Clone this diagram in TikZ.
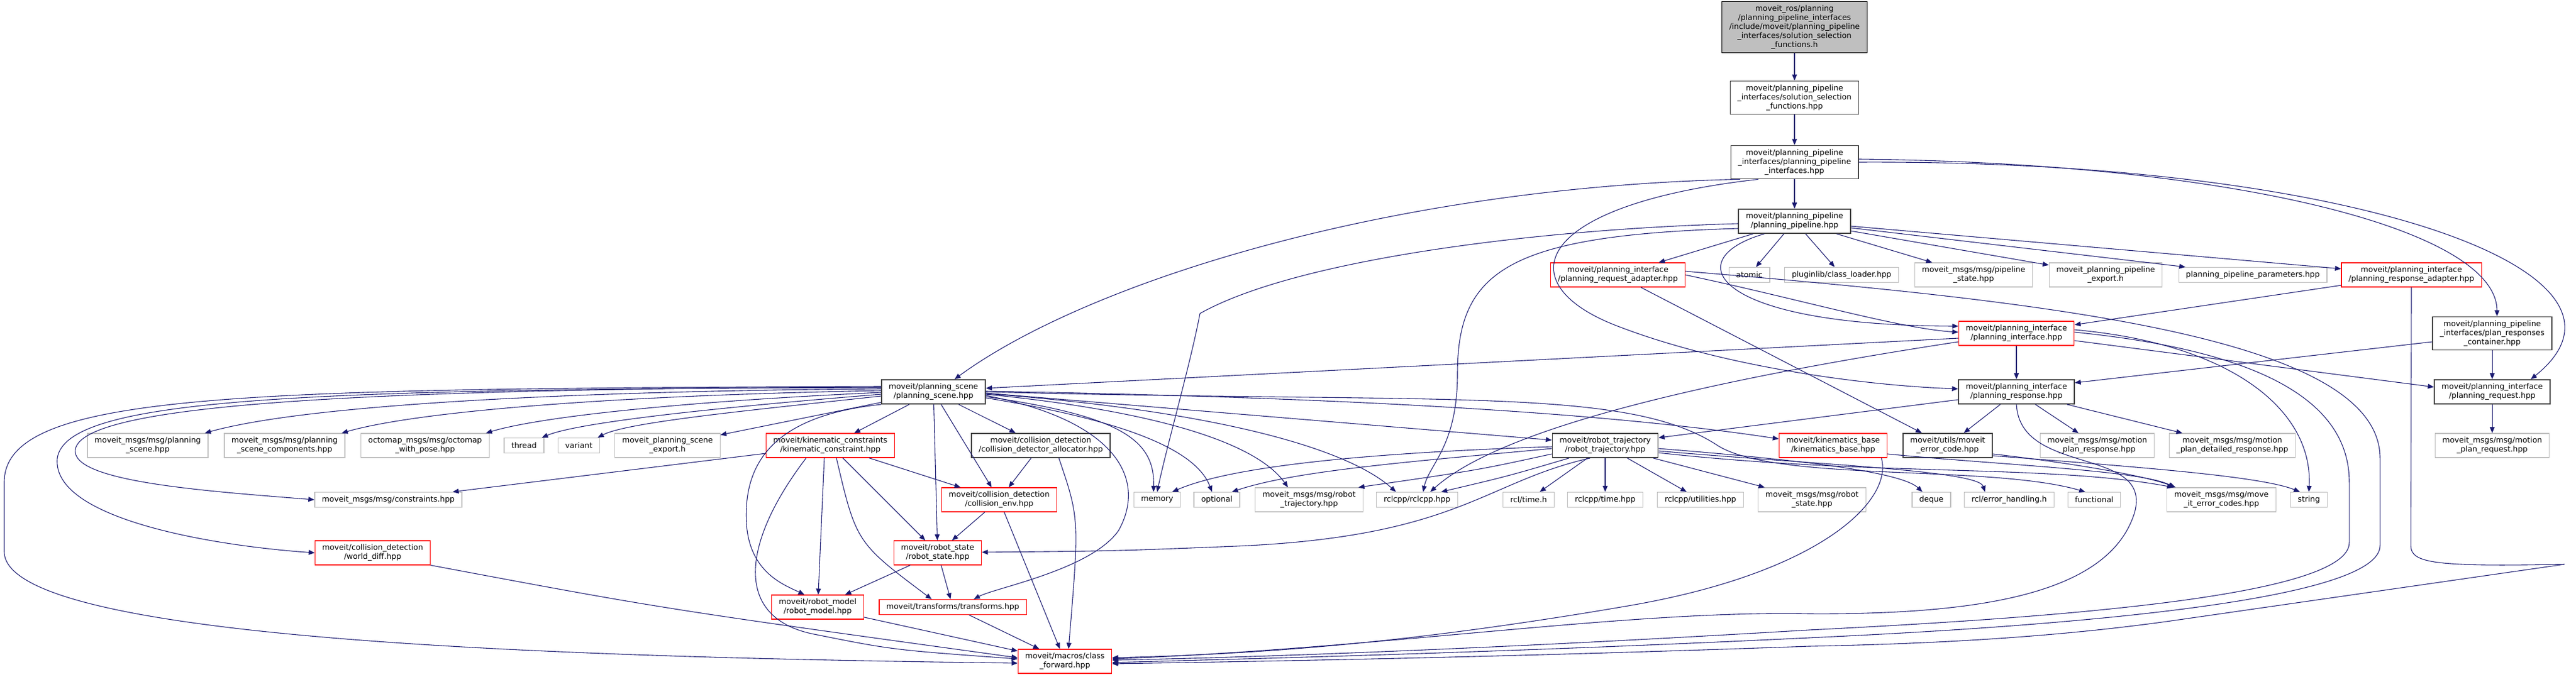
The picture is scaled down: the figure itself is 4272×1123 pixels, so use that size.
\documentclass[tikz,border=0pt]{standalone}
\usepackage{fontspec}
\setmainfont{DejaVu Sans}
\usetikzlibrary{arrows.meta}
\definecolor{doxEdge}{HTML}{191970}
\definecolor{doxGrey}{HTML}{BFBFBF}
\definecolor{doxDark}{HTML}{404040}
\definecolor{doxRed}{HTML}{FF0000}
\tikzset{
    base node/.style={rectangle, align=center, inner xsep=12pt, inner ysep=0pt, minimum height=25pt, line width=1.2pt, font=\fontsize{12.8}{15}\selectfont},
    root node/.style={base node, draw=black, fill=doxGrey},
    doc node/.style={base node, draw=doxDark, line width=1.8pt},
    ext node/.style={base node, draw=doxGrey},
    cut node/.style={base node, draw=doxRed},
    two lines/.style={minimum height=40pt},
    three lines/.style={minimum height=55pt},
    five lines/.style={minimum height=85pt},
    dep/.style={-{Triangle[length=10pt, width=8pt]}, doxEdge, line width=1.1pt},
}
\begin{document}
\begin{tikzpicture}[x=1pt, y=-1pt]
    \useasboundingbox (0,0) rectangle (4272,1123);
    % header chain
    \node[root node, five lines] (top) at (2976,45) {moveit\_ros/planning\\/planning\_pipeline\_interfaces\\/include/moveit/planning\_pipeline\\\_interfaces/solution\_selection\\\_functions.h};
    \node[doc node, three lines] (solsel) at (2976,162) {moveit/planning\_pipeline\\\_interfaces/solution\_selection\\\_functions.hpp};
    \node[doc node, three lines] (ifaces) at (2976,269) {moveit/planning\_pipeline\\\_interfaces/planning\_pipeline\\\_interfaces.hpp};
    \node[doc node, two lines] (pipe) at (2976,367) {moveit/planning\_pipeline\\/planning\_pipeline.hpp};
    % pipeline includes
    \node[cut node, two lines] (reqad) at (2683,456) {moveit/planning\_interface\\/planning\_request\_adapter.hpp};
    \node[ext node] (atomic) at (2901,456) {atomic};
    \node[ext node] (pluginlib) at (3054,456) {pluginlib/class\_loader.hpp};
    \node[ext node, two lines] (pstate) at (3273,456) {moveit\_msgs/msg/pipeline\\\_state.hpp};
    \node[ext node, two lines] (pexport) at (3492,456) {moveit\_planning\_pipeline\\\_export.h};
    \node[ext node] (pparams) at (3736,456) {planning\_pipeline\_parameters.hpp};
    \node[cut node, two lines] (respad) at (3999,456) {moveit/planning\_interface\\/planning\_response\_adapter.hpp};
    \node[cut node, two lines] (pinterface) at (3344,553) {moveit/planning\_interface\\/planning\_interface.hpp};
    \node[doc node, three lines] (container) at (4133,553) {moveit/planning\_pipeline\\\_interfaces/plan\_responses\\\_container.hpp};
    \node[doc node, two lines] (pscene) at (1548,650) {moveit/planning\_scene\\/planning\_scene.hpp};
    \node[doc node, two lines] (presponse) at (3344,650) {moveit/planning\_interface\\/planning\_response.hpp};
    \node[doc node, two lines] (prequest) at (4133,650) {moveit/planning\_interface\\/planning\_request.hpp};
    % row of includes
    \node[ext node, two lines] (msgscene) at (245,739) {moveit\_msgs/msg/planning\\\_scene.hpp};
    \node[ext node, two lines] (msgcomp) at (472,739) {moveit\_msgs/msg/planning\\\_scene\_components.hpp};
    \node[ext node, two lines] (octomap) at (705,739) {octomap\_msgs/msg/octomap\\\_with\_pose.hpp};
    \node[ext node] (thread) at (869,739) {thread};
    \node[ext node] (variant) at (960,739) {variant};
    \node[ext node, two lines] (psexport) at (1107,739) {moveit\_planning\_scene\\\_export.h};
    \node[cut node, two lines] (kconstr) at (1377,739) {moveit/kinematic\_constraints\\/kinematic\_constraint.hpp};
    \node[doc node, two lines] (alloc) at (1726,739) {moveit/collision\_detection\\/collision\_detector\_allocator.hpp};
    \node[doc node, two lines] (rtraj) at (2662,739) {moveit/robot\_trajectory\\/robot\_trajectory.hpp};
    \node[cut node, two lines] (kbase) at (3040,739) {moveit/kinematics\_base\\/kinematics\_base.hpp};
    \node[doc node, two lines] (errcode) at (3230,739) {moveit/utils/moveit\\\_error\_code.hpp};
    \node[ext node, two lines] (mpresp) at (3478,739) {moveit\_msgs/msg/motion\\\_plan\_response.hpp};
    \node[ext node, two lines] (mpdet) at (3702,739) {moveit\_msgs/msg/motion\\\_plan\_detailed\_response.hpp};
    \node[ext node, two lines] (mpreq) at (4133,739) {moveit\_msgs/msg/motion\\\_plan\_request.hpp};
    \node[ext node] (constraints) at (644,829) {moveit\_msgs/msg/constraints.hpp};
    \node[cut node, two lines] (collenv) at (1657,829) {moveit/collision\_detection\\/collision\_env.hpp};
    \node[ext node] (memory) at (1919,829) {memory};
    \node[ext node] (optional) at (2018,829) {optional};
    \node[ext node, two lines] (msgtraj) at (2171,829) {moveit\_msgs/msg/robot\\\_trajectory.hpp};
    \node[ext node] (rclcpp) at (2350,829) {rclcpp/rclcpp.hpp};
    \node[ext node] (rcltime) at (2535,829) {rcl/time.h};
    \node[ext node] (rclcpptime) at (2662,829) {rclcpp/time.hpp};
    \node[ext node] (utilities) at (2820,829) {rclcpp/utilities.hpp};
    \node[ext node, two lines] (msgstate) at (3005,829) {moveit\_msgs/msg/robot\\\_state.hpp};
    \node[ext node] (deque) at (3203,829) {deque};
    \node[ext node] (errhandling) at (3332,829) {rcl/error\_handling.h};
    \node[ext node] (functional) at (3473,829) {functional};
    \node[ext node, two lines] (errcodes) at (3684,829) {moveit\_msgs/msg/move\\\_it\_error\_codes.hpp};
    \node[ext node] (string) at (3829,829) {string};
    \node[cut node, two lines] (worlddiff) at (618,917) {moveit/collision\_detection\\/world\_diff.hpp};
    \node[cut node, two lines] (rstate) at (1555,917) {moveit/robot\_state\\/robot\_state.hpp};
    \node[cut node, two lines] (rmodel) at (1356,1007) {moveit/robot\_model\\/robot\_model.hpp};
    \node[cut node] (transforms) at (1580,1007) {moveit/transforms/transforms.hpp};
    \node[cut node, two lines] (classfwd) at (1766,1097) {moveit/macros/class\\\_forward.hpp};

    % top of the graph
    \draw[dep] (top) -- (solsel);
    \draw[dep] (solsel) -- (ifaces);
    \draw[dep] (ifaces) -- (pipe);
    \draw[dep] ([xshift=-90pt]ifaces.south) .. controls (2300,310) and (1800,470) .. ([xshift=35pt]pscene.north);
    \draw[dep] ([xshift=-60pt]ifaces.south) .. controls (2540,340) and (2500,470) .. (2680,540) .. controls (2860,610) and (3100,640) .. ([yshift=5pt]presponse.west);
    \draw[dep] ([yshift=5pt]ifaces.east) .. controls (3700,270) and (4140,380) .. ([xshift=8pt]container.north);
    \draw[dep] (ifaces.east) .. controls (3900,265) and (4420,450) .. ([xshift=64pt]prequest.north);

    % planning pipeline
    \draw[dep] (pipe) -- (reqad);
    \draw[dep] (pipe) -- (atomic);
    \draw[dep] (pipe) -- (pluginlib);
    \draw[dep] (pipe) -- (pstate);
    \draw[dep] (pipe) -- (pexport);
    \draw[dep] (pipe) -- (pparams);
    \draw[dep] (pipe) -- (respad);
    \draw[dep] ([xshift=-50pt]pipe.south) .. controls (2780,430) and (2840,540) .. ([yshift=12pt]pinterface.west);
    \draw[dep] ([yshift=-4pt]pipe.west) .. controls (2550,380) and (2150,430) .. (1990,520) .. controls (1975,600) and (1935,740) .. (memory.north);
    \draw[dep] ([yshift=-12pt]pipe.west) .. controls (2500,390) and (2417,450) .. (2417,620) .. controls (2417,740) and (2370,770) .. ([xshift=10pt]rclcpp.north);

    % adapters
    \draw[dep] (reqad.east) .. controls (2980,495) and (3150,545) .. ([yshift=2pt]pinterface.west);
    \draw[dep] ([yshift=6pt]reqad.east) .. controls (3400,500) and (3947,560) .. (3947,760) -- (3947,905) .. controls (3947,990) and (3500,1035) .. (3000,1058) .. controls (2500,1082) and (2100,1092) .. ([yshift=-2pt]classfwd.east);
    \draw[dep] ([xshift=38pt]reqad.south) -- ([xshift=-43pt]errcode.north);
    \draw[dep] (respad) -- (pinterface);
    \draw[dep] (respad.south) -- (3998,905) .. controls (3998,935) and (4040,940) .. (4253,936) -- (3600,1030) .. controls (3400,1058) and (3200,1068) .. (3000,1072) .. controls (2500,1090) and (2100,1097) .. ([yshift=-4pt]classfwd.east);

    % planning interface
    \draw[dep] (pinterface) -- (presponse);
    \draw[dep] ([yshift=-12pt]pinterface.east) -- ([yshift=8pt]prequest.west);
    \draw[dep] ([yshift=-8pt]pinterface.west) -- ([yshift=6pt]pscene.east);
    \draw[dep] ([yshift=-14pt]pinterface.west) .. controls (2900,620) and (2500,700) .. ([xshift=22pt]rclcpp.north);
    \draw[dep] ([yshift=6pt]pinterface.east) .. controls (3700,570) and (3836,680) .. (string.north);
    \draw[dep] ([yshift=2pt]pinterface.east) .. controls (3780,585) and (3896,680) .. (3896,800) -- (3896,900) .. controls (3896,990) and (3400,1025) .. (3000,1045) .. controls (2500,1075) and (2100,1090) .. ([yshift=2pt]classfwd.east);
    \draw[dep] (presponse) -- (errcode);
    \draw[dep] (presponse) -- (mpresp);
    \draw[dep] (presponse) -- (mpdet);
    \draw[dep] ([yshift=-13pt]presponse.west) -- ([yshift=-8pt]rtraj.north east);
    \draw[dep] (presponse.south) .. controls (3350,790) and (3570,740) .. (3540,850) .. controls (3500,980) and (3300,1020) .. (3000,1018) .. controls (2700,1012) and (2300,1075) .. ([yshift=4pt]classfwd.east);
    \draw[dep] ([yshift=-14pt]container.west) -- ([yshift=15pt]presponse.east);
    \draw[dep] (container) -- (prequest);
    \draw[dep] (prequest) -- (mpreq);

    % planning scene
    \draw[dep] ([yshift=5pt]pscene.west) .. controls (1000,648) and (520,668) .. ([xshift=-6pt]msgscene.north east);
    \draw[dep] ([yshift=2pt]pscene.west) .. controls (1050,655) and (700,680) .. ([xshift=-6pt]msgcomp.north east);
    \draw[dep] ([yshift=-1pt]pscene.west) .. controls (1150,665) and (900,690) .. ([xshift=-6pt]octomap.north east);
    \draw[dep] ([yshift=-4pt]pscene.west) .. controls (1200,675) and (960,700) .. ([xshift=-4pt]thread.north east);
    \draw[dep] ([yshift=-7pt]pscene.west) .. controls (1250,680) and (1040,700) .. ([xshift=-4pt]variant.north east);
    \draw[dep] (pscene) -- (psexport);
    \draw[dep] (pscene) -- (kconstr);
    \draw[dep] (pscene) -- (alloc);
    \draw[dep] ([yshift=8pt]pscene.west) .. controls (600,645) and (140,670) .. (125,745) .. controls (115,800) and (350,815) .. (constraints.west);
    \draw[dep] ([yshift=7pt]pscene.west) .. controls (500,645) and (110,660) .. (95,760) .. controls (85,860) and (350,905) .. (worlddiff.west);
    \draw[dep] ([yshift=9pt]pscene.west) .. controls (400,645) and (7,650) .. (7,800) -- (7,915) .. controls (7,1060) and (900,1090) .. ([yshift=-3pt]classfwd.west);
    \draw[dep] (pscene) -- (collenv);
    \draw[dep] (pscene) -- (rstate);
    \draw[dep] (pscene.south west) .. controls (1280,690) and (1232,770) .. (1238,870) .. controls (1244,950) and (1300,970) .. ([xshift=-22pt]rmodel.north);
    \draw[dep] ([yshift=-6pt]pscene.east) .. controls (1860,700) and (1900,800) .. (1855,880) .. controls (1810,945) and (1650,975) .. ([xshift=35pt]transforms.north);
    \draw[dep] ([yshift=-8pt]pscene.east) .. controls (1860,690) and (1915,730) .. ([xshift=-6pt]memory.north);
    \draw[dep] ([yshift=-10pt]pscene.east) .. controls (1880,700) and (1985,750) .. ([xshift=-8pt]optional.north);
    \draw[dep] ([yshift=-4pt]pscene.east) .. controls (1900,680) and (2080,730) .. ([xshift=-35pt]msgtraj.north);
    \draw[dep] ([yshift=-3pt]pscene.east) .. controls (2000,680) and (2230,740) .. ([xshift=-35pt]rclcpp.north);
    \draw[dep] ([yshift=-2pt]pscene.east) -- ([yshift=9pt]rtraj.west);
    \draw[dep] ([yshift=1pt]pscene.east) .. controls (2300,660) and (2700,690) .. ([yshift=11pt]kbase.west);
    \draw[dep] (pscene.east) .. controls (2400,670) and (2700,640) .. (2850,740) .. controls (2950,800) and (3300,770) .. ([xshift=-15pt]functional.north);

    % robot trajectory
    \draw[dep] ([xshift=-25pt]rtraj.south) .. controls (2460,800) and (2420,890) .. (2050,906) .. controls (1850,914) .. ([yshift=1pt]rstate.east);
    \draw[dep] ([yshift=-2pt]rtraj.west) .. controls (2300,750) and (2050,770) .. ([xshift=25pt]memory.north);
    \draw[dep] ([yshift=-5pt]rtraj.west) .. controls (2350,765) and (2150,780) .. ([xshift=25pt]optional.north);
    \draw[dep] ([yshift=-14pt]rtraj.west) .. controls (2450,780) .. ([xshift=-8pt]msgtraj.north east);
    \draw[dep] ([xshift=-60pt]rtraj.south) .. controls (2500,790) .. ([xshift=40pt]rclcpp.north);
    \draw[dep] (rtraj) -- (rcltime);
    \draw[dep] (rtraj) -- (rclcpptime);
    \draw[dep] (rtraj) -- (utilities);
    \draw[dep] (rtraj) -- (msgstate);
    \draw[dep] ([yshift=-5pt]rtraj.east) .. controls (2950,760) and (3150,780) .. ([xshift=-15pt]deque.north);
    \draw[dep] ([yshift=-9pt]rtraj.east) .. controls (3000,770) and (3280,780) .. ([xshift=-40pt]errhandling.north);
    \draw[dep] ([yshift=-12pt]rtraj.east) .. controls (3100,790) and (3400,770) .. ([xshift=-80pt]errcodes.north);

    % kinematics base and error code
    \draw[dep] ([yshift=-14pt]kbase.east) .. controls (3300,770) and (3550,780) .. ([xshift=-78pt]errcodes.north);
    \draw[dep] ([xshift=80pt]kbase.south) .. controls (3140,830) and (3020,950) .. (2700,1005) .. controls (2350,1065) and (2100,1085) .. ([yshift=6pt]classfwd.east);
    \draw[dep] ([yshift=-14pt]errcode.east) .. controls (3450,770) and (3560,790) .. ([xshift=-76pt]errcodes.north);
    \draw[dep] ([yshift=-17pt]errcode.east) .. controls (3550,775) and (3750,790) .. ([xshift=-15pt]string.north);

    % lower cluster
    \draw[dep] (kconstr) -- (constraints);
    \draw[dep] (kconstr) -- (collenv);
    \draw[dep] (kconstr) -- (rstate);
    \draw[dep] ([xshift=-10pt]kconstr.south) -- (rmodel);
    \draw[dep] ([xshift=10pt]kconstr.south) .. controls (1420,900) .. ([xshift=-35pt]transforms.north);
    \draw[dep] ([xshift=-40pt]kconstr.south) .. controls (1230,900) and (1215,1025) .. (1350,1052) .. controls (1480,1078) .. ([yshift=4pt]classfwd.west);
    \draw[dep] (alloc) -- (collenv);
    \draw[dep] ([xshift=30pt]alloc.south) .. controls (1790,860) .. ([xshift=6pt]classfwd.north);
    \draw[dep] (collenv) -- (rstate);
    \draw[dep] (collenv) -- (classfwd);
    \draw[dep] (rstate) -- (rmodel);
    \draw[dep] (rstate) -- (transforms);
    \draw[dep] (rmodel) -- (classfwd);
    \draw[dep] (transforms) -- (classfwd);
    \draw[dep] (worlddiff.south east) .. controls (1100,1010) .. ([yshift=6pt]classfwd.west);
\end{tikzpicture}
\end{document}
